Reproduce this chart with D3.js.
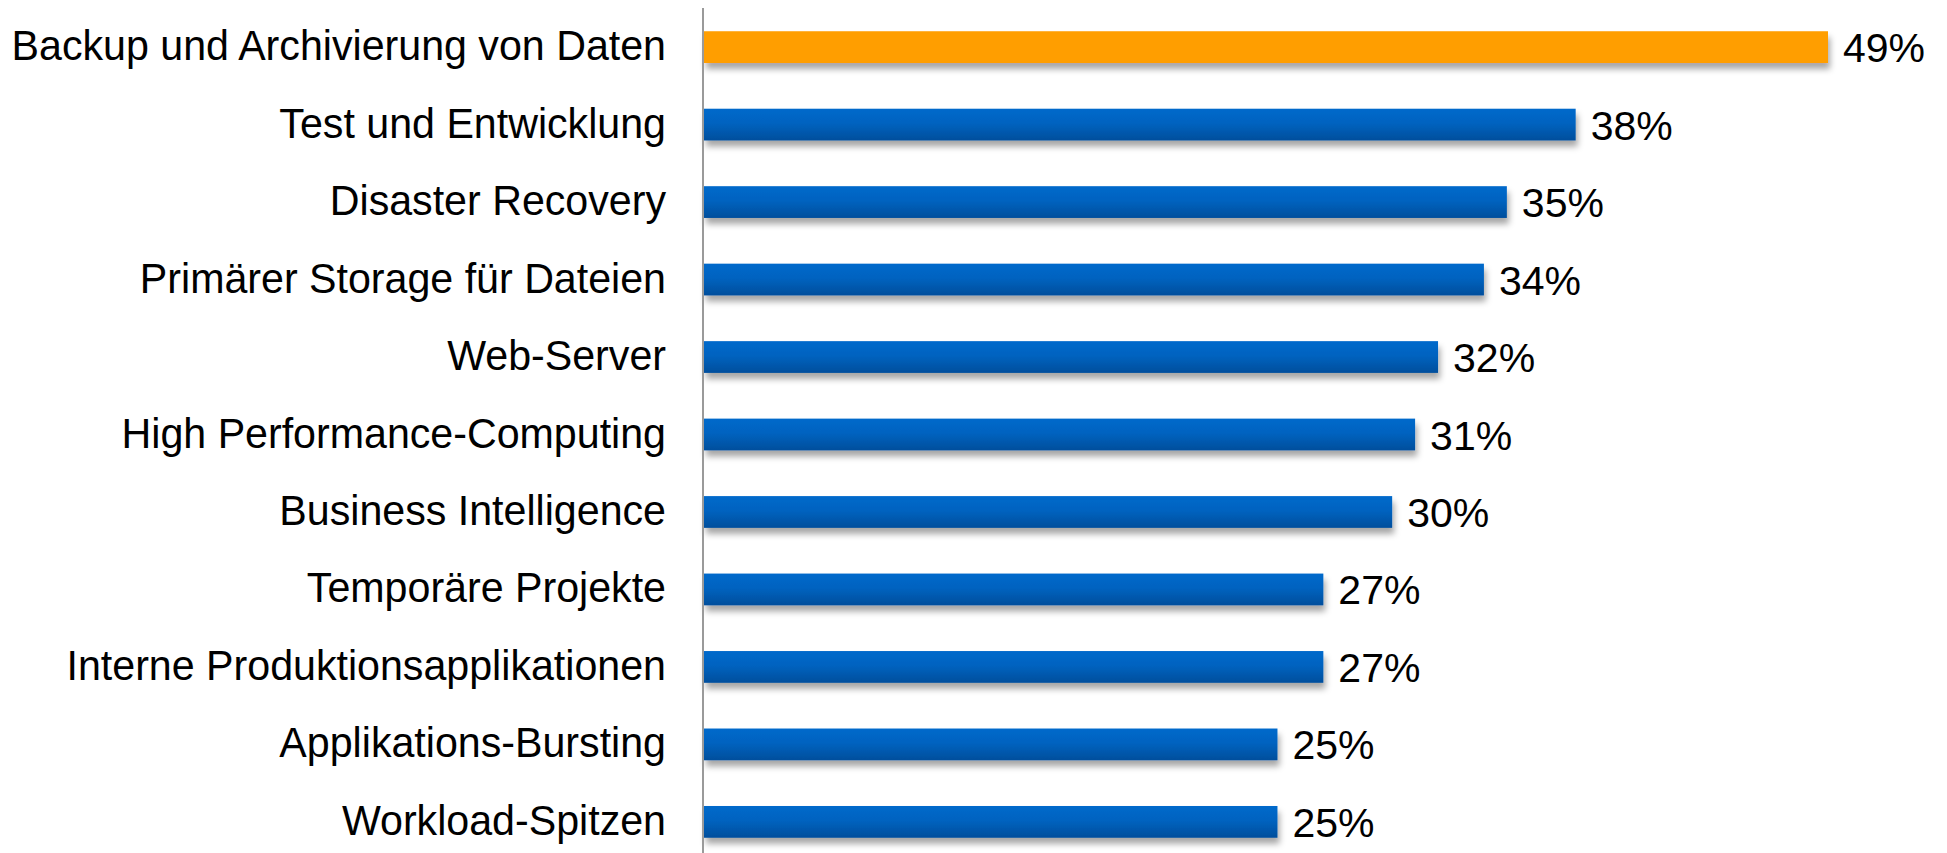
<!DOCTYPE html>
<html>
<head>
<meta charset="utf-8">
<script src="https://cdn.jsdelivr.net/npm/d3@7"></script>
<style>
  body { margin: 0; background: #fff; }
  text { font-family: "Liberation Sans", Arial, sans-serif; fill: #000; }
</style>
</head>
<body>
<svg id="chart" width="1947" height="853"></svg>
<script>
const categories = [
  "Backup und Archivierung von Daten",
  "Test und Entwicklung",
  "Disaster Recovery",
  "Primärer Storage für Dateien",
  "Web-Server",
  "High Performance-Computing",
  "Business Intelligence",
  "Temporäre Projekte",
  "Interne Produktionsapplikationen",
  "Applikations-Bursting",
  "Workload-Spitzen"
];
const values = [49, 38, 35, 34, 32, 31, 30, 27, 27, 25, 25];
const highlight = [true, false, false, false, false, false, false, false, false, false, false];

const svg = d3.select("#chart");
const axisX = 704;

// 0..49 maps onto the bar area
const x = d3.scaleLinear().domain([0, 49]).range([axisX, 1828]);
const y = d3.scaleBand().domain(categories).range([8, 861]).paddingInner(0.59).paddingOuter(0.3);

const defs = svg.append("defs");
const blue = defs.append("linearGradient").attr("id", "blueGrad")
  .attr("x1", 0).attr("y1", 0).attr("x2", 0).attr("y2", 1);
blue.append("stop").attr("offset", "0%").attr("stop-color", "#0069CB");
blue.append("stop").attr("offset", "45%").attr("stop-color", "#0063C0");
blue.append("stop").attr("offset", "100%").attr("stop-color", "#004E9C");

const shadow = defs.append("filter").attr("id", "shadow")
  .attr("x", "-5%").attr("y", "-50%").attr("width", "110%").attr("height", "220%");
shadow.append("feDropShadow").attr("dx", 2).attr("dy", 6)
  .attr("stdDeviation", 3).attr("flood-color", "#000").attr("flood-opacity", 0.35);

// bars
svg.append("g").selectAll("rect")
  .data(values)
  .join("rect")
  .attr("x", x(0))
  .attr("y", (d, i) => y(categories[i]))
  .attr("width", d => x(d) - x(0))
  .attr("height", y.bandwidth())
  .attr("fill", (d, i) => highlight[i] ? "#FF9E00" : "url(#blueGrad)")
  .attr("filter", "url(#shadow)");

// value labels
svg.append("g").selectAll("text")
  .data(values)
  .join("text")
  .attr("x", d => x(d) + 15)
  .attr("y", (d, i) => y(categories[i]) + y.bandwidth() / 2 + 15)
  .attr("font-size", 41)
  .text(d => d + "%");

// category axis
const yAxis = d3.axisLeft(y).tickSize(0).tickPadding(37);
const ax = svg.append("g").attr("transform", `translate(${axisX - 1},0)`).call(yAxis);
ax.select(".domain").remove();
ax.selectAll("text")
  .attr("font-size", 42)
  .attr("font-family", "Liberation Sans, Arial, sans-serif")
  .attr("dy", null)
  .attr("y", 13)
  .attr("textLength", function() { return this.getComputedTextLength() * 0.98; })
  .attr("lengthAdjust", "spacingAndGlyphs");

svg.append("line")
  .attr("x1", axisX - 1).attr("x2", axisX - 1)
  .attr("y1", 8).attr("y2", 853)
  .attr("stroke", "#9a9a9a").attr("stroke-width", 2);
</script>
</body>
</html>
